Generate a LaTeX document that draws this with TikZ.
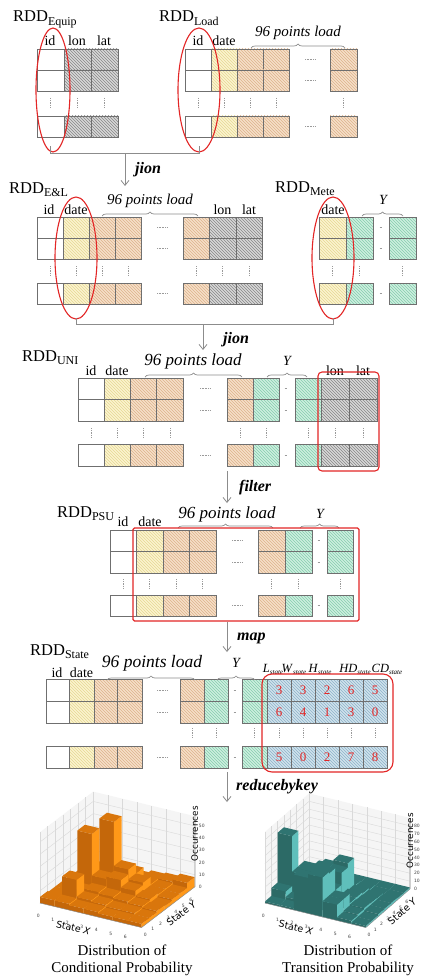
\documentclass[tikz,border=0pt]{standalone}
\usepackage{fontspec}
\setmainfont{Liberation Serif}
\newfontfamily\plotfont{DejaVu Sans}
\usetikzlibrary{patterns,decorations.pathreplacing,arrows.meta,shapes.geometric}

\definecolor{cellline}{HTML}{6F6F6F}
\definecolor{fyel}{HTML}{FBF4CF}
\definecolor{hyel}{HTML}{E6D894}
\definecolor{fora}{HTML}{F6DFC8}
\definecolor{hora}{HTML}{DDB38C}
\definecolor{fgry}{HTML}{D8D8D8}
\definecolor{hgry}{HTML}{878787}
\definecolor{fgrn}{HTML}{CDEFE0}
\definecolor{hgrn}{HTML}{86CEAD}
\definecolor{fblu}{HTML}{D0E2EC}
\definecolor{hblu}{HTML}{8DB3C9}
\definecolor{ringred}{HTML}{E32626}
\definecolor{connc}{HTML}{8C8C8C}
\definecolor{dotc}{HTML}{9A9A9A}
\definecolor{paneC}{HTML}{F5F5F5}
\definecolor{floorC}{HTML}{ECECEC}
\definecolor{gridC}{HTML}{D9D9D9}
\definecolor{oraT}{HTML}{D9760C}
\definecolor{oraL}{HTML}{C4670A}
\definecolor{oraR}{HTML}{FF9818}
\definecolor{tealT}{HTML}{2F7471}
\definecolor{tealL}{HTML}{2C6A66}
\definecolor{tealR}{HTML}{5FBFBB}

\newcommand\rddsub[1]{\raisebox{-3.5pt}{\fontsize{12}{12}\selectfont #1}}
\newcommand\sthdr[1]{\textit{#1}\raisebox{-2pt}{\fontsize{7}{7}\selectfont\itshape state}}

% one column of a table: three cells, optional vertical dots below the second row
\newcommand\tcoln[3]{\foreach \ry in {\rowA,\rowB,\rowC}{\path[#3] (#1,\ry) rectangle ++(#2,\rowH);}}
\newcommand\tcol[3]{\tcoln{#1}{#2}{#3}\draw[vdot] (#1+#2/2,\rowD-5) -- (#1+#2/2,\rowD+5);}
\newcommand\hdotsat[1]{\foreach \ry in {\rowA,\rowB,\rowC}{\draw[hdot] (#1-5,\ry+\rowH/2) -- (#1+5,\ry+\rowH/2);}}
\newcommand\hdashat[1]{\foreach \ry in {\rowA,\rowB,\rowC}{\draw[hdot] (#1-1.5,\ry+\rowH/2) -- (#1+1.5,\ry+\rowH/2);}}

% a 3D bar of unit footprint
\newcommand\bxbar[3]{%
  \fill[barL] (#1,#2,0) -- (#1+1,#2,0) -- (#1+1,#2,#3) -- (#1,#2,#3) -- cycle;
  \fill[barR] (#1+1,#2,0) -- (#1+1,#2+1,0) -- (#1+1,#2+1,#3) -- (#1+1,#2,#3) -- cycle;
  \fill[barT] (#1,#2,#3) -- (#1+1,#2,#3) -- (#1+1,#2+1,#3) -- (#1,#2+1,#3) -- cycle;}

\tikzset{
  cellbase/.style={draw=cellline, line width=0.7pt},
  kw/.style={cellbase, fill=white},
  ky/.style={cellbase, preaction={fill=fyel}, pattern=north west lines, pattern color=hyel},
  ko/.style={cellbase, preaction={fill=fora}, pattern=north west lines, pattern color=hora},
  kg/.style={cellbase, preaction={fill=fgry}, pattern=north west lines, pattern color=hgry},
  kn/.style={cellbase, preaction={fill=fgrn}, pattern=north west lines, pattern color=hgrn},
  kb/.style={cellbase, preaction={fill=fblu}, pattern=north west lines, pattern color=hblu},
  vdot/.style={dotc, line width=0.6pt, dash pattern=on 1.2pt off 1pt},
  hdot/.style={dotc, line width=0.6pt, dash pattern=on 0.8pt off 0.8pt},
  rdd/.style={anchor=base west, inner sep=0, font=\fontsize{16.5}{18}\selectfont},
  hdr/.style={anchor=base, inner sep=0, font=\fontsize{14}{16}\selectfont},
  pl/.style={anchor=base, inner sep=0, font=\itshape\fontsize{#1}{18}\selectfont},
  brc/.style={connc, line width=0.7pt, decorate, decoration={brace, amplitude=4pt}},
  ring/.style={draw=ringred, line width=1.1pt, ellipse, inner sep=0},
  redbox/.style={draw=ringred, line width=1.1pt, inner sep=0},
  conn/.style={connc, line width=0.8pt},
  arr/.style={connc, line width=0.8pt, -{Straight Barb[length=5pt,width=8pt]}},
  oplab/.style={anchor=base west, inner sep=0, font=\bfseries\itshape\fontsize{16}{18}\selectfont},
  num/.style={ringred, font=\fontsize{13}{14}\selectfont, inner sep=0},
  ttl/.style={anchor=base, inner sep=0, font=\fontsize{15}{17}\selectfont},
  tick/.style={inner sep=0, font=\plotfont\fontsize{4.5}{5}\selectfont, text=black!75},
  axlab/.style={inner sep=0, font=\plotfont\fontsize{9.5}{10}\selectfont},
  grid3/.style={gridC, line width=0.4pt},
}

\begin{document}
\begin{tikzpicture}[x=1pt,y=-1pt]
\useasboundingbox (0,0) rectangle (436,979);
\fill[white] (0,0) rectangle (436,979);

% ================= RDD_Equip and RDD_Load =================
\node[rdd] (tEquip) at (13,22) {RDD\rddsub{Equip}};
\node[rdd] (tLoad) at (159,22) {RDD\rddsub{Load}};
\def\rowA{49}\def\rowB{70}\def\rowC{116}\def\rowH{21}\def\rowD{103}
\tcol{37}{27}{kw}\tcol{64}{27}{kg}\tcol{91}{27}{kg}
\tcol{185}{26}{kw}\tcol{211}{26}{ky}\tcol{237}{26}{ko}\tcol{263}{26}{ko}\tcol{330}{27}{ko}
\hdotsat{310}
\node[hdr] at (50,46) {id};
\node[hdr] at (77,46) {lon};
\node[hdr] at (104,46) {lat};
\node[hdr] at (198,46) {id};
\node[hdr] at (224,46) {date};
\node[pl=15] at (298,37) {96 points load};
\draw[brc] (251,48) -- (345,48);
\node[ring, minimum width=34, minimum height=124] (e1) at (53,90) {};
\node[ring, minimum width=42, minimum height=124] (e2) at (199,90) {};
\coordinate (j1a) at (50,153);
\coordinate (j1b) at (199,153);
\coordinate (j1m) at (125,153);
\coordinate (s2top) at (125,186);
\draw[conn] (50,146) -- (j1a) -- (j1b) -- (199,146);
\draw[arr] (j1m) -- (s2top);
\node[oplab] (op1) at (135,173) {jion};

% ================= RDD_E&L and RDD_Mete =================
\node[rdd] (tEL) at (9,193) {RDD\rddsub{E\&L}};
\node[rdd] (tMete) at (275,192) {RDD\rddsub{Mete}};
\def\rowA{217}\def\rowB{238}\def\rowC{283}\def\rowH{21}\def\rowD{271}
\tcol{37}{26}{kw}\tcol{63}{26}{ky}\tcol{89}{26}{ko}\tcol{115}{26}{ko}
\tcol{183}{26.5}{ko}\tcol{209.5}{26.5}{kg}\tcol{236}{26.5}{kg}
\hdotsat{162}
\tcol{319}{27}{ky}\tcol{346}{27}{kn}\tcol{389}{27}{kn}
\hdashat{381}
\node[hdr] at (49,214) {id};
\node[hdr] at (76,214) {date};
\node[hdr] at (222.5,214) {lon};
\node[hdr] at (249,214) {lat};
\node[pl=15] at (150,204) {96 points load};
\draw[brc] (102,216) -- (198,216);
\node[hdr] at (333,214) {date};
\node[pl=14] at (383,204) {Y};
\draw[brc] (362,216) -- (403,216);
\node[ring, minimum width=42, minimum height=122] (e3) at (76,258) {};
\node[ring, minimum width=42, minimum height=122] (e4) at (333,258) {};
\coordinate (j2a) at (76,324);
\coordinate (j2b) at (333,324);
\coordinate (j2m) at (203,324);
\coordinate (s3top) at (203,350);
\draw[conn] (76,318) -- (j2a) -- (j2b) -- (333,318);
\draw[arr] (j2m) -- (s3top);
\node[oplab] (op2) at (223,343) {jion};

% ================= RDD_UNI =================
\node[rdd] (tUNI) at (22,361) {RDD\rddsub{UNI}};
\def\rowA{378}\def\rowB{399.5}\def\rowC{444.5}\def\rowH{21.5}\def\rowD{433}
\tcol{78}{26}{kw}\tcol{104}{26.3}{ky}\tcol{130.3}{26.3}{ko}\tcol{156.6}{26.4}{ko}
\hdotsat{205}
\tcol{227}{26}{ko}\tcol{253}{26}{kn}
\hdashat{286}
\tcol{295}{26}{kn}\tcol{321}{28}{kg}\tcol{349}{28}{kg}
\node[hdr] at (91,375) {id};
\node[hdr] at (117,375) {date};
\node[hdr] at (335,375) {lon};
\node[hdr] at (363,375) {lat};
\node[pl=17] at (193,365) {96 points load};
\draw[brc] (145,377) -- (242,377);
\node[pl=14] at (287,365) {Y};
\draw[brc] (267,377) -- (307,377);
\node[redbox, rounded corners=4pt, minimum width=61, minimum height=99] (f1) at (348.5,421.5) {};
\coordinate (s3bot) at (227,471);
\coordinate (s4top) at (227,503);
\draw[arr] (s3bot) -- (s4top);
\node[oplab] (op3) at (239,491) {filter};

% ================= RDD_PSU =================
\node[rdd] (tPSU) at (57,517) {RDD\rddsub{PSU}};
\def\rowA{530}\def\rowB{551.5}\def\rowC{595}\def\rowH{21.5}\def\rowD{584}
\tcol{110}{26}{kw}\tcol{136}{27}{ky}\tcol{163}{26.5}{ko}\tcol{189.5}{26.5}{ko}
\hdotsat{237}
\tcol{258}{27}{ko}\tcol{285}{27}{kn}
\hdashat{319}
\tcol{327}{26.5}{kn}
\node[hdr] at (123,526) {id};
\node[hdr] at (150,526) {date};
\node[pl=17] at (227,518) {96 points load};
\draw[brc] (178,528) -- (273,528);
\node[pl=14] at (320,518) {Y};
\draw[brc] (300,528) -- (339,528);
\node[redbox, rounded corners=1.5pt, minimum width=226, minimum height=93] (f2) at (246,574.5) {};
\coordinate (s5top) at (227,652);
\draw[arr] (f2.south -| s5top) -- (s5top);
\node[oplab] (op4) at (237,640) {map};

% ================= RDD_State =================
\node[rdd] (tState) at (30,655) {RDD\rddsub{State}};
\def\rowA{679}\def\rowB{701}\def\rowC{746}\def\rowH{22}\def\rowD{733}
\tcoln{46}{23}{kw}\tcoln{69}{25}{ky}\tcoln{94}{23.5}{ko}\tcoln{117.5}{24.5}{ko}
\hdotsat{162}
\tcol{180}{24}{ko}\tcol{204}{24}{kn}
\hdashat{235}
\tcol{242}{25}{kn}
\tcol{267}{24}{kb}\tcol{291}{24}{kb}\tcol{315}{24}{kb}\tcol{339}{24}{kb}\tcol{363}{24}{kb}
\node[hdr] at (57,677) {id};
\node[hdr] at (81.5,677) {date};
\node[pl=17.5] at (152,667) {96 points load};
\draw[brc] (107,680) -- (195,680);
\node[pl=14] at (236,667) {Y};
\draw[brc] (217,680) -- (255,680);
\begin{scope}[every node/.style={anchor=base, inner sep=0, font=\fontsize{12.5}{14}\selectfont}]
  \node at (273,672) {\sthdr{L}};
  \node at (294,672) {\sthdr{W}};
  \node at (320,672) {\sthdr{H}};
  \node at (355,672) {\sthdr{HD}};
  \node at (387,672) {\sthdr{CD}};
\end{scope}
\foreach \v [count=\i from 0] in {3,3,2,6,5} {\node[num] at (279+24*\i,690) {\v};}
\foreach \v [count=\i from 0] in {6,4,1,3,0} {\node[num] at (279+24*\i,712) {\v};}
\foreach \v [count=\i from 0] in {5,0,2,7,8} {\node[num] at (279+24*\i,757) {\v};}
\node[redbox, rounded corners=10pt, minimum width=131, minimum height=98] (f3) at (327.5,723) {};
\coordinate (s5bot) at (227,772);
\coordinate (s6top) at (227,802);
\draw[arr] (s5bot) -- (s6top);
\node[oplab] (op5) at (236,790) {reducebykey};

% ================= conditional distribution (orange bars) =================
\begin{scope}[shift={(40,903)}, x={(14.5pt,-3.5pt)}, y={(7.6pt,5.8pt)}, z={(0pt,1.22pt)}]
  \tikzset{barL/.style={fill=oraL}, barR/.style={fill=oraR}, barT/.style={fill=oraT}}
  \fill[paneC] (0,0,0) -- (0,7,0) -- (0,7,58) -- (0,0,58) -- cycle;
  \fill[paneC] (0,7,0) -- (7,7,0) -- (7,7,58) -- (0,7,58) -- cycle;
  \fill[floorC] (0,0,0) -- (7,0,0) -- (7,7,0) -- (0,7,0) -- cycle;
  \foreach \k in {0,...,7} {
    \draw[grid3] (0,\k,0) -- (0,\k,58);
    \draw[grid3] (\k,7,0) -- (\k,7,58);
    \draw[grid3] (\k,0,0) -- (\k,7,0);
    \draw[grid3] (0,\k,0) -- (7,\k,0);}
  \foreach \zz in {0,10,...,50} {\draw[grid3] (0,0,\zz) -- (0,7,\zz) -- (7,7,\zz);}
  \foreach \Y/\row in {6/{2,3,4,3,5,6,8}, 5/{3,4,6,12,6,5,4}, 4/{3,5,56,20,12,5,4},
                       3/{4,48,14,16,10,6,3}, 2/{4,6,8,7,6,5,4}, 1/{4,20,6,5,4,4,3},
                       0/{5,5,4,4,3,3,3}} {
    \foreach \H [count=\X from 0] in \row {\bxbar{\X}{\Y}{\H}}}
  \draw[black!45, line width=0.4pt] (0,0,0) -- (7,0,0) -- (7,7,0) -- (7,7,58);
  \foreach \i in {0,...,6} {\node[tick, xshift=-9pt, yshift=-11.5pt] at (\i+0.5,0,0) {\i};}
  \foreach \j in {0,...,6} {\node[tick, xshift=0pt, yshift=-10.5pt] at (7,\j+0.5,0) {\j};}
  \foreach \zz in {0,10,...,50} {\node[tick, anchor=west, xshift=4pt] at (7,7,\zz) {\zz};}
  \node[axlab, rotate=90, font=\plotfont\fontsize{8.8}{9}\selectfont] (occL) at (7,7,28) [xshift=19pt] {Occurrences};
  \node[axlab, rotate=-13.6] (sxL) at (3.5,0,0) [xshift=-14pt, yshift=-16.5pt] {State \textit{X}};
  \node[axlab, rotate=37] (syL) at (7,3.5,0) [xshift=7pt, yshift=-13pt] {State \textit{Y}};
\end{scope}
\node[ttl] (cd1) at (122,955) {Distribution of};
\node[ttl] (cd2) at (122,972) {Conditional Probability};

% ================= transition distribution (teal bars) =================
\begin{scope}[shift={(265,903)}, x={(14.4pt,-3.5pt)}, y={(6.3pt,5.5pt)}, z={(0pt,0.79pt)}]
  \tikzset{barL/.style={fill=tealL}, barR/.style={fill=tealR}, barT/.style={fill=tealT}}
  \fill[paneC] (0,0,0) -- (0,7,0) -- (0,7,90) -- (0,0,90) -- cycle;
  \fill[paneC] (0,7,0) -- (7,7,0) -- (7,7,90) -- (0,7,90) -- cycle;
  \fill[floorC] (0,0,0) -- (7,0,0) -- (7,7,0) -- (0,7,0) -- cycle;
  \foreach \k in {0,...,7} {
    \draw[grid3] (0,\k,0) -- (0,\k,90);
    \draw[grid3] (\k,7,0) -- (\k,7,90);
    \draw[grid3] (\k,0,0) -- (\k,7,0);
    \draw[grid3] (0,\k,0) -- (7,\k,0);}
  \foreach \zz in {0,10,...,80} {\draw[grid3] (0,0,\zz) -- (0,7,\zz) -- (7,7,\zz);}
  \foreach \Y/\row in {6/{2,2,2,2,2,2,2}, 5/{2,3,3,4,3,2,2}, 4/{2,4,30,40,6,4,3},
                       3/{3,30,35,35,8,5,3}, 2/{75,30,25,20,8,6,3}, 1/{12,5,45,48,20,5,2},
                       0/{2,2,45,50,20,4,2}} {
    \foreach \H [count=\X from 0] in \row {\bxbar{\X}{\Y}{\H}}}
  \draw[black!45, line width=0.4pt] (0,0,0) -- (7,0,0) -- (7,7,0) -- (7,7,90);
  \foreach \i in {0,...,6} {\node[tick, xshift=-9pt, yshift=-11.5pt] at (\i+0.5,0,0) {\i};}
  \foreach \j in {0,...,6} {\node[tick, xshift=0pt, yshift=-10.5pt] at (7,\j+0.5,0) {\j};}
  \foreach \zz in {0,10,...,80} {\node[tick, anchor=west, xshift=4pt] at (7,7,\zz) {\zz};}
  \node[axlab, rotate=90, font=\plotfont\fontsize{8.8}{9}\selectfont] (occR) at (7,7,42) [xshift=15pt] {Occurrences};
  \node[axlab, rotate=-13.6] (sxR) at (3.5,0,0) [xshift=-16pt, yshift=-16.5pt] {State \textit{X}};
  \node[axlab, rotate=41] (syR) at (7,3.5,0) [xshift=9pt, yshift=-12pt] {State \textit{Y}};
\end{scope}
\node[ttl] (td1) at (348,955) {Distribution of};
\node[ttl] (td2) at (348,972) {Transition Probability};
\end{tikzpicture}
\end{document}
